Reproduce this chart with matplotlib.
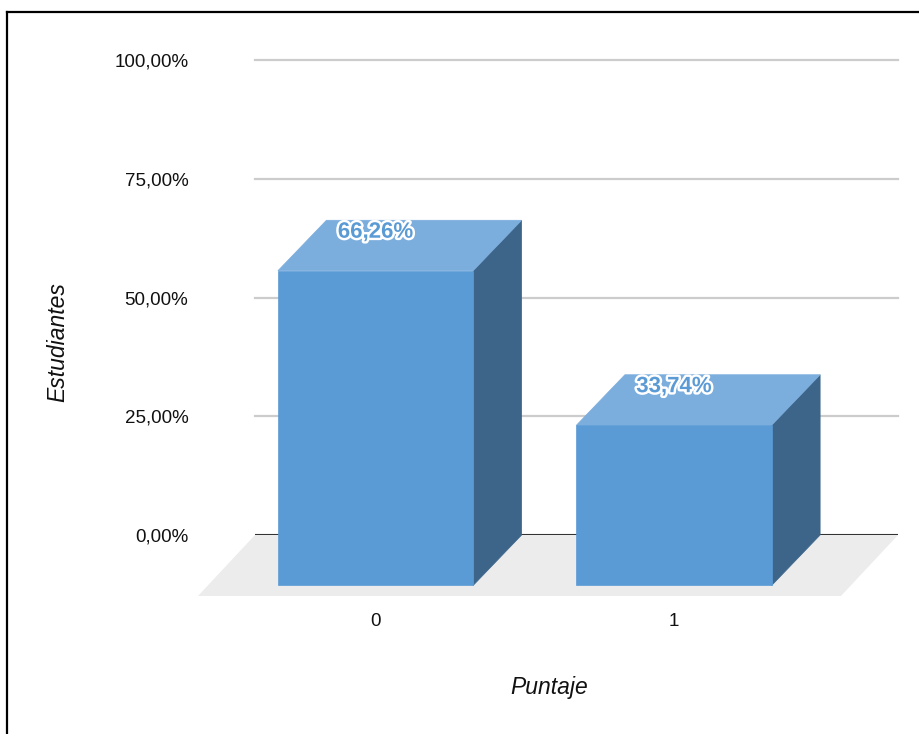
import matplotlib
matplotlib.use("Agg")
import matplotlib.pyplot as plt
import matplotlib.patheffects as pe
from matplotlib.patches import Polygon
from matplotlib.lines import Line2D
from matplotlib.ticker import FuncFormatter

plt.rcParams['font.family'] = ['Liberation Sans', 'DejaVu Sans']

# data
categories = ["0", "1"]
values = [66.26, 33.74]
y_ticks = [0, 25, 50, 75, 100]

# pseudo 3D look
front_col = "#5B9BD5"
top_col = "#7BADDD"
side_col = "#3C6589"
half_w = 0.327
depth_x = 0.1625
depth_y = 10.63
floor_dx = 0.191
floor_dy = 12.84

W, H = 920, 734
fig = plt.figure(figsize=(W / 100, H / 100), dpi=100)
ax = fig.add_axes([255 / W, 199 / H, 643 / W, 475 / H])
ax.set_xlim(-0.4037, 1.7504)
ax.set_ylim(0, 100)

x0, x1 = ax.get_xlim()
# floor
ax.add_patch(Polygon([(x0, 0), (x1, 0), (x1 - floor_dx, -floor_dy), (x0 - floor_dx, -floor_dy)],
                     closed=True, facecolor="#ECECEC", edgecolor="none", clip_on=False, zorder=0))

# grid + zero line
for t in y_ticks[1:]:
    ax.axhline(t, color="#CCCCCC", lw=1.6, zorder=1, clip_on=False)
ax.axhline(0, color="#333333", lw=1.5, zorder=1)

for i, v in enumerate(values):
    c = i
    front = [(c - half_w, -depth_y), (c + half_w, -depth_y), (c + half_w, v - depth_y), (c - half_w, v - depth_y)]
    top = [(c - half_w, v - depth_y), (c + half_w, v - depth_y), (c + half_w + depth_x, v), (c - half_w + depth_x, v)]
    side = [(c + half_w, -depth_y), (c + half_w + depth_x, 0), (c + half_w + depth_x, v), (c + half_w, v - depth_y)]
    for pts, col in [(side, side_col), (top, top_col), (front, front_col)]:
        ax.add_patch(Polygon(pts, closed=True, facecolor=col, edgecolor=col, lw=0.5,
                             clip_on=False, zorder=3))
    lbl = f"{v:.2f}".replace(".", ",") + "%"
    ax.annotate(lbl, (c, v), xytext=(0, -8.6), textcoords="offset points",
                ha="center", va="center", fontsize=16, fontweight="bold", color="#5B9BD5",
                zorder=5, annotation_clip=False,
                path_effects=[pe.withStroke(linewidth=3.5, foreground="white")])

ax.set_yticks(y_ticks)
ax.yaxis.set_major_formatter(FuncFormatter(lambda t, p: f"{t:.2f}".replace(".", ",") + "%"))
ax.set_xticks(range(len(categories)))
ax.set_xticklabels(categories)
ax.tick_params(axis="y", length=0, pad=48, labelsize=13.5, labelcolor="#111111")
ax.tick_params(axis="x", length=0, pad=56, labelsize=13.5, labelcolor="#111111")
for s in ax.spines.values():
    s.set_visible(False)
ax.grid(False)

ax.set_ylabel("Estudiantes", fontsize=16.5, style="italic", color="#111111")
ax.yaxis.set_label_coords(-0.289, 0.406)
ax.set_xlabel("Puntaje", fontsize=16.5, style="italic", color="#111111")
ax.xaxis.set_label_coords(0.457, -0.297)

# frame
fig.add_artist(Line2D([7.5 / W, 7.5 / W], [0, 1 - 11.5 / H], transform=fig.transFigure, color="black", lw=1.6))
fig.add_artist(Line2D([7.5 / W, 1], [1 - 11.5 / H, 1 - 11.5 / H], transform=fig.transFigure, color="black", lw=1.6))

fig.savefig("out.png", dpi=100)
